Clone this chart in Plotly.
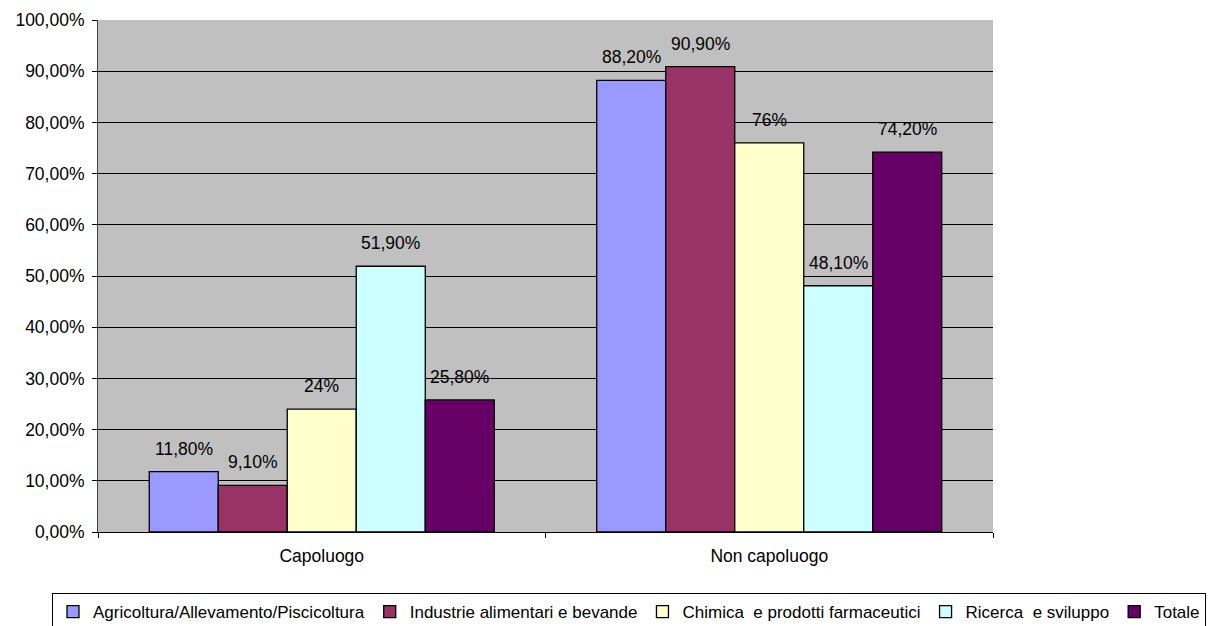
import plotly.graph_objects as go

categories = ["Capoluogo", "Non capoluogo"]
series_names = [
    "Agricoltura/Allevamento/Piscicoltura",
    "Industrie alimentari e bevande",
    "Chimica  e prodotti farmaceutici",
    "Ricerca  e sviluppo",
    "Totale",
]
series_values = [
    [11.8, 88.2],
    [9.1, 90.9],
    [24.0, 76.0],
    [51.9, 48.1],
    [25.8, 74.2],
]
series_labels = [
    ["11,80%", "88,20%"],
    ["9,10%", "90,90%"],
    ["24%", "76%"],
    ["51,90%", "48,10%"],
    ["25,80%", "74,20%"],
]
colors = ["#9999FF", "#993366", "#FFFFCC", "#CCFFFF", "#660066"]
y_ticks = [0, 10, 20, 30, 40, 50, 60, 70, 80, 90, 100]
y_tick_labels = ["0,00%", "10,00%", "20,00%", "30,00%", "40,00%", "50,00%",
                 "60,00%", "70,00%", "80,00%", "90,00%", "100,00%"]

W, H = 1231, 626
FONT = "Liberation Sans, Arial, sans-serif"
FS = 17.5
BARGAP = 0.229

fig = go.Figure()
for name, vals, col in zip(series_names, series_values, colors):
    fig.add_trace(go.Bar(
        x=categories, y=vals, name=name,
        marker=dict(color=col, line=dict(color="black", width=1.3)),
    ))

n = len(series_names)
bw = (1 - BARGAP) / n
annotations = []
for j, (vals, labs) in enumerate(zip(series_values, series_labels)):
    for i, (v, lab) in enumerate(zip(vals, labs)):
        annotations.append(dict(
            x=i + (j - (n - 1) / 2) * bw, y=v, xref="x", yref="y",
            text=lab, showarrow=False, yanchor="middle", yshift=23,
            font=dict(family=FONT, size=FS, color="black"),
        ))

fig.update_layout(
    width=W, height=H,
    margin=dict(l=0, r=0, t=0, b=0, autoexpand=False),
    paper_bgcolor="white", plot_bgcolor="white",
    barmode="group", bargap=BARGAP, bargroupgap=0,
    font=dict(family=FONT, size=FS, color="black"),
    showlegend=True,
    legend=dict(
        orientation="h",
        x=52 / W, xanchor="left",
        y=1 - 593 / H, yanchor="top",
        bgcolor="white", bordercolor="black", borderwidth=1,
        font=dict(family=FONT, size=17, color="black"),
        itemwidth=30, traceorder="normal", tracegroupgap=0,
    ),
    annotations=annotations,
    shapes=[dict(
        type="rect", xref="x domain", yref="y domain", x0=0, x1=1, y0=0, y1=1,
        fillcolor="#C0C0C0", line=dict(width=0), layer="below",
    )],
)
fig.update_xaxes(
    domain=[98 / W, 993 / W],
    type="category", range=[-0.5, 1.5], showgrid=False,
    showline=True, linecolor="black", linewidth=1,
    ticks="outside", tickson="boundaries", ticklen=5, tickcolor="black",
    ticklabelstandoff=8,
)
fig.update_yaxes(
    domain=[1 - 532 / H, 1 - 20 / H],
    range=[0, 100], tickvals=y_ticks, ticktext=y_tick_labels,
    showgrid=True, gridcolor="black", gridwidth=1,
    showline=True, linecolor="#404040", linewidth=1,
    ticks="outside", ticklen=5, tickcolor="black",
    zeroline=False, ticklabelstandoff=4,
)

fig.write_html("out.html")
